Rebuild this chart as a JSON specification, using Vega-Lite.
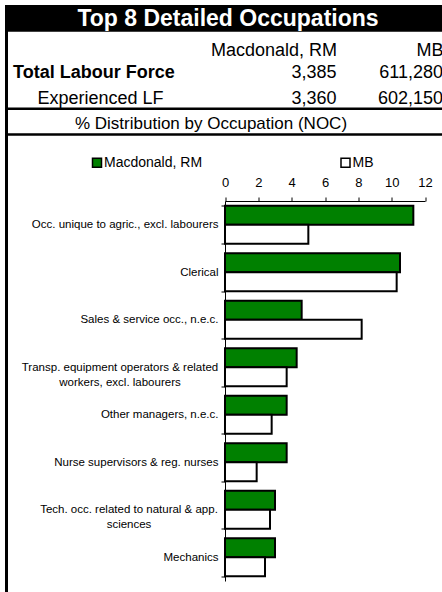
{
  "$schema": "https://vega.github.io/schema/vega-lite/v6.json",
  "width": 440,
  "height": 590,
  "autosize": {"type": "none"},
  "padding": {"left": 6.5, "top": 6.5, "right": -4.5, "bottom": -4.5},
  "background": "white",
  "config": {
    "view": {"stroke": "black", "strokeWidth": 3},
    "font": "Liberation Sans",
    "text": {"font": "Liberation Sans"}
  },
  "datasets": {
    "header": [
      {"row": "title", "text": "Top 8 Detailed Occupations"},
      {"row": "sub", "text": "% Distribution by Occupation (NOC)"}
    ],
    "labour": [
      {"measure": "Total Labour Force", "area": "Macdonald, RM", "count": 3385},
      {"measure": "Total Labour Force", "area": "MB", "count": 611280},
      {"measure": "Experienced LF", "area": "Macdonald, RM", "count": 3360},
      {"measure": "Experienced LF", "area": "MB", "count": 602150}
    ],
    "occupations": [
      {"occupation": "Occ. unique to agric., excl. labourers", "area": "Macdonald, RM", "pct": 11.3},
      {"occupation": "Occ. unique to agric., excl. labourers", "area": "MB", "pct": 5.0},
      {"occupation": "Clerical", "area": "Macdonald, RM", "pct": 10.5},
      {"occupation": "Clerical", "area": "MB", "pct": 10.3},
      {"occupation": "Sales & service occ., n.e.c.", "area": "Macdonald, RM", "pct": 4.6},
      {"occupation": "Sales & service occ., n.e.c.", "area": "MB", "pct": 8.2},
      {"occupation": "Transp. equipment operators & related workers, excl. labourers", "area": "Macdonald, RM", "pct": 4.3},
      {"occupation": "Transp. equipment operators & related workers, excl. labourers", "area": "MB", "pct": 3.7},
      {"occupation": "Other managers, n.e.c.", "area": "Macdonald, RM", "pct": 3.7},
      {"occupation": "Other managers, n.e.c.", "area": "MB", "pct": 2.8},
      {"occupation": "Nurse supervisors & reg. nurses", "area": "Macdonald, RM", "pct": 3.7},
      {"occupation": "Nurse supervisors & reg. nurses", "area": "MB", "pct": 1.9},
      {"occupation": "Tech. occ. related to natural & app. sciences", "area": "Macdonald, RM", "pct": 3.0},
      {"occupation": "Tech. occ. related to natural & app. sciences", "area": "MB", "pct": 2.7},
      {"occupation": "Mechanics", "area": "Macdonald, RM", "pct": 3.0},
      {"occupation": "Mechanics", "area": "MB", "pct": 2.4}
    ]
  },
  "layer": [
    {
      "data": {"name": "header"},
      "transform": [{"filter": "datum.row === 'sub'"}],
      "mark": {"type": "rect", "fill": "transparent", "stroke": "black", "strokeWidth": 2.5},
      "encoding": {
        "y": {"field": "row", "type": "nominal", "axis": null,
              "scale": {"type": "band", "domain": ["title", "Area", "Total Labour Force", "Experienced LF", "sub"], "range": [-0.5, 128], "paddingInner": 0, "paddingOuter": 0}}
      }
    },
    {
      "data": {"name": "header"},
      "transform": [{"filter": "datum.row === 'title'"}],
      "mark": {"type": "rect", "fill": "black"},
      "encoding": {
        "y": {"field": "row", "type": "nominal", "axis": null,
              "scale": {"type": "band", "domain": ["title", "Area", "Total Labour Force", "Experienced LF", "sub"], "range": [-0.5, 128], "paddingInner": 0, "paddingOuter": 0}}
      }
    },
    {
      "data": {"name": "header"},
      "transform": [{"filter": "datum.row === 'title'"}],
      "mark": {"type": "text", "color": "white", "fontWeight": "bold", "fontSize": 23, "baseline": "middle", "align": "center", "dx": 1.5},
      "encoding": {
        "y": {"field": "row", "type": "nominal", "axis": null,
              "scale": {"type": "band", "domain": ["title", "Area", "Total Labour Force", "Experienced LF", "sub"], "range": [-0.5, 128], "paddingInner": 0, "paddingOuter": 0}},
        "text": {"field": "text"}
      }
    },
    {
      "data": {"name": "header"},
      "transform": [{"filter": "datum.row === 'sub'"}],
      "mark": {"type": "text", "color": "black", "fontSize": 17, "baseline": "middle", "align": "center", "dx": -15.5, "dy": 2},
      "encoding": {
        "y": {"field": "row", "type": "nominal", "axis": null,
              "scale": {"type": "band", "domain": ["title", "Area", "Total Labour Force", "Experienced LF", "sub"], "range": [-0.5, 128], "paddingInner": 0, "paddingOuter": 0}},
        "text": {"field": "text"}
      }
    },
    {
      "data": {"name": "labour"},
      "mark": {"type": "text", "color": "black", "fontSize": 18, "baseline": "middle", "align": "right", "dy": 3},
      "encoding": {
        "x": {"field": "area", "type": "nominal", "sort": null,
              "scale": {"type": "point", "domain": ["Macdonald, RM", "MB"], "range": [330, 436.5], "padding": 0},
              "axis": {"orient": "top", "offset": -44, "title": null, "domain": false, "ticks": false, "tickSize": 0, "labelPadding": 0, "labelBaseline": "middle", "labelAlign": "right", "labelAngle": 0, "labelFontSize": 18, "labelFont": "Liberation Sans", "labelColor": "black", "grid": false}},
        "y": {"field": "measure", "type": "nominal",
              "scale": {"type": "band", "domain": ["title", "Area", "Total Labour Force", "Experienced LF", "sub"], "range": [-0.5, 128], "paddingInner": 0, "paddingOuter": 0},
              "axis": {"orient": "left", "offset": 0, "values": ["Total Labour Force", "Experienced LF"], "title": null, "domain": false, "ticks": false, "tickSize": 0, "labelAlign": "left", "labelBaseline": "middle", "labelOffset": 3, "labelFontSize": 18, "labelFont": "Liberation Sans", "labelColor": "black", "labelLimit": 400,
                       "labelPadding": {"condition": {"test": "datum.value === 'Experienced LF'", "value": -30.5}, "value": -6},
                       "labelFontWeight": {"condition": {"test": "datum.value === 'Total Labour Force'", "value": "bold"}, "value": "normal"}}},
        "text": {"field": "count", "type": "quantitative", "format": ","}
      }
    },
    {
      "data": {"name": "occupations"},
      "mark": {"type": "bar", "stroke": "black", "strokeWidth": 2},
      "encoding": {
        "y": {"field": "occupation", "type": "nominal", "sort": null,
              "scale": {"range": [194.5, 574.5], "paddingInner": 0.2, "paddingOuter": 0.1},
              "axis": {"orient": "left", "offset": -218.5, "title": null, "tickBand": "extent", "tickSize": 4, "tickColor": "black", "domainColor": "black", "labelFontSize": 11.5, "labelFont": "Liberation Sans", "labelColor": "black", "labelLimit": 300, "labelLineHeight": 15, "labelOverlap": false,
                       "labelAlign": {"condition": {"test": "datum.value === 'Transp. equipment operators & related workers, excl. labourers' || datum.value === 'Tech. occ. related to natural & app. sciences'", "value": "center"}, "value": "right"},
                       "labelPadding": {"condition": [{"test": "datum.value === 'Transp. equipment operators & related workers, excl. labourers'", "value": 101.5}, {"test": "datum.value === 'Tech. occ. related to natural & app. sciences'", "value": 92.5}], "value": 3},
                       "labelExpr": "datum.value === 'Transp. equipment operators & related workers, excl. labourers' ? ['Transp. equipment operators & related', 'workers, excl. labourers'] : datum.value === 'Tech. occ. related to natural & app. sciences' ? ['Tech. occ. related to natural & app.', 'sciences'] : datum.value"}},
        "yOffset": {"field": "area", "type": "nominal", "sort": null, "scale": {"domain": ["Macdonald, RM", "MB"], "paddingInner": 0, "paddingOuter": 0}},
        "x": {"field": "pct", "type": "quantitative",
              "scale": {"domain": [0, 12], "range": [218.5, 418.5], "nice": false, "zero": true},
              "axis": {"orient": "top", "offset": -194.5, "title": null, "values": [0, 2, 4, 6, 8, 10, 12], "tickSize": 4, "tickColor": "black", "domainColor": "black", "labelPadding": 8, "labelFontSize": 13, "labelFont": "Liberation Sans", "labelColor": "black", "grid": false, "labelFlush": false}},
        "color": {"field": "area", "type": "nominal", "sort": null,
                  "scale": {"domain": ["Macdonald, RM", "MB"], "range": ["#008000", "#ffffff"]},
                  "legend": {"orient": "none", "legendX": 83.5, "legendY": 149, "direction": "horizontal", "columns": 2, "columnPadding": 134.5, "title": null, "symbolType": "square", "symbolSize": 81, "symbolStrokeColor": "black", "symbolStrokeWidth": 1.5, "labelFontSize": 14, "labelFont": "Liberation Sans", "labelColor": "black", "labelOffset": 0, "padding": 0}}
      }
    }
  ],
  "resolve": {"scale": {"x": "independent", "y": "independent", "color": "independent"}}
}
